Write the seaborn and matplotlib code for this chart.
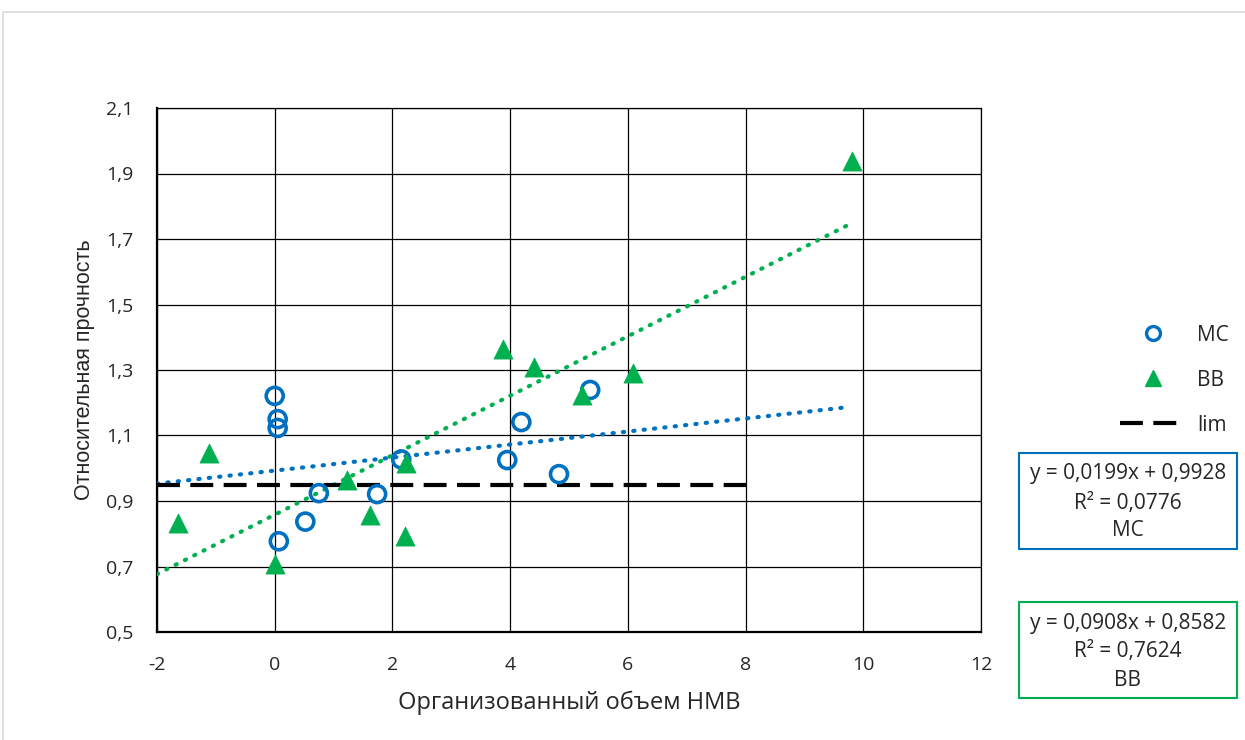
import numpy as np
import pandas as pd
import matplotlib
matplotlib.use("Agg")
import matplotlib.pyplot as plt
from matplotlib.lines import Line2D
from matplotlib.patches import Rectangle
import seaborn as sns

# ---- data ----
mc_x = [0.00, 0.05, 0.05, 0.07, 0.52, 0.75, 1.74, 2.15, 3.95, 4.19, 4.83, 5.36]
mc_y = [1.221, 1.150, 1.123, 0.777, 0.837, 0.924, 0.921, 1.027, 1.025, 1.141, 0.982, 1.239]
bb_x = [-1.64, -1.12, 0.00, 1.23, 1.62, 2.21, 2.23, 3.88, 4.41, 5.22, 6.09, 9.80]
bb_y = [0.833, 1.047, 0.708, 0.964, 0.857, 0.793, 1.015, 1.364, 1.308, 1.224, 1.290, 1.939]
lim_x = [-2, 8]
lim_y = [0.95, 0.95]
mc_fit = (0.0199, 0.9928)   # slope, intercept
bb_fit = (0.0908, 0.8582)
mc_fit_range = [-2, 9.7]
bb_fit_range = [-2, 9.8]
mc_r2 = "0,0776"
bb_r2 = "0,7624"
x_ticks = [-2, 0, 2, 4, 6, 8, 10, 12]
y_ticks = [0.5, 0.7, 0.9, 1.1, 1.3, 1.5, 1.7, 1.9, 2.1]

BLUE = "#0070C0"
GREEN = "#00B050"

sns.set_theme(style="white")
plt.rcParams["font.family"] = ["Open Sans", "DejaVu Sans"]

fig = plt.figure(figsize=(12.45, 7.4), dpi=100)
W, H = 1245, 740
ax = fig.add_axes([157 / W, 1 - 632 / H, (981 - 157) / W, (632 - 108) / H])

# outer chart border
fig.patches.append(Rectangle((3 / W, -0.01), 1.0, 1 - 12 / H + 0.01, transform=fig.transFigure,
                             fill=False, edgecolor="#D9D9D9", linewidth=1.2))

df_mc = pd.DataFrame({"x": mc_x, "y": mc_y})
df_bb = pd.DataFrame({"x": bb_x, "y": bb_y})

# trendlines
fx = np.array(mc_fit_range)
ax.plot(fx, mc_fit[0] * fx + mc_fit[1], color=BLUE, lw=3, linestyle=(0, (0.3, 2.2)),
        dash_capstyle="round", zorder=3)
fx = np.array(bb_fit_range)
ax.plot(fx, bb_fit[0] * fx + bb_fit[1], color=GREEN, lw=3, linestyle=(0, (0.3, 2.2)),
        dash_capstyle="round", zorder=3)

# lim line
ax.plot(lim_x, lim_y, color="black", lw=3, linestyle=(0, (5.5, 2.5)), zorder=3)

sns.scatterplot(data=df_mc, x="x", y="y", ax=ax, marker="o", s=150, facecolor="none",
                edgecolor=BLUE, linewidth=2.6, zorder=4)
sns.scatterplot(data=df_bb, x="x", y="y", ax=ax, marker="^", s=190, color=GREEN,
                edgecolor=GREEN, linewidth=0.5, zorder=4)

ax.set_xlim(-2, 12)
ax.set_ylim(0.5, 2.1)
ax.set_xticks(x_ticks)
ax.set_yticks(y_ticks)
ax.set_xticklabels([str(t) for t in x_ticks], fontsize=14)
ax.set_yticklabels([f"{t:.1f}".replace(".", ",") for t in y_ticks], fontsize=14)
ax.tick_params(axis="x", length=0, pad=17)
ax.tick_params(axis="y", length=0, pad=17)
ax.grid(True, color="black", linewidth=0.9)
for s in ["top", "right"]:
    ax.spines[s].set_color("black")
    ax.spines[s].set_linewidth(0.9)
for s in ["left", "bottom"]:
    ax.spines[s].set_color("black")
    ax.spines[s].set_linewidth(1.6)
ax.set_axisbelow(True)
ax.set_xlabel("Организованный объем НМВ", fontsize=17, labelpad=12)
ax.set_ylabel("Относительная прочность", fontsize=15.5, labelpad=8,
              family=["Liberation Sans", "DejaVu Sans"])

# legend
handles = [
    Line2D([], [], marker="o", linestyle="none", markerfacecolor="none", markeredgecolor=BLUE,
           markeredgewidth=2.4, markersize=10),
    Line2D([], [], marker="^", linestyle="none", color=GREEN, markersize=11),
    Line2D([], [], color="black", lw=3, linestyle=(0, (5.5, 2.5))),
]
fig.legend(handles, ["МС", "ВВ", "lim"], loc="upper left", bbox_to_anchor=(1101 / W, 1 - 306 / H),
           frameon=False, fontsize=15, handlelength=3.2, handletextpad=0.5, labelspacing=1.15,
           markerfirst=True)

# equation boxes
def eq_box(y_top, color, slope, inter, r2, name, line_ys):
    x0, x1 = 1019, 1237
    y1 = y_top + 96
    fig.patches.append(Rectangle((x0 / W, 1 - y1 / H), (x1 - x0) / W, 96 / H,
                                 transform=fig.transFigure, fill=False, edgecolor=color, linewidth=1.5))
    cx = (x0 + x1) / 2 / W
    s = f"{slope:.4f}".replace(".", ",")
    i = f"{inter:.4f}".replace(".", ",")
    lines = [f"y = {s}x + {i}", f"R² = {r2}", name]
    for t, yy in zip(lines, line_ys):
        fig.text(cx, 1 - yy / H, t, ha="center", va="center", fontsize=15)

eq_box(453, BLUE, mc_fit[0], mc_fit[1], mc_r2, "МС", [474, 503, 531])
eq_box(602, GREEN, bb_fit[0], bb_fit[1], bb_r2, "ВВ", [623, 652, 680])

fig.savefig("out.png", dpi=100)
